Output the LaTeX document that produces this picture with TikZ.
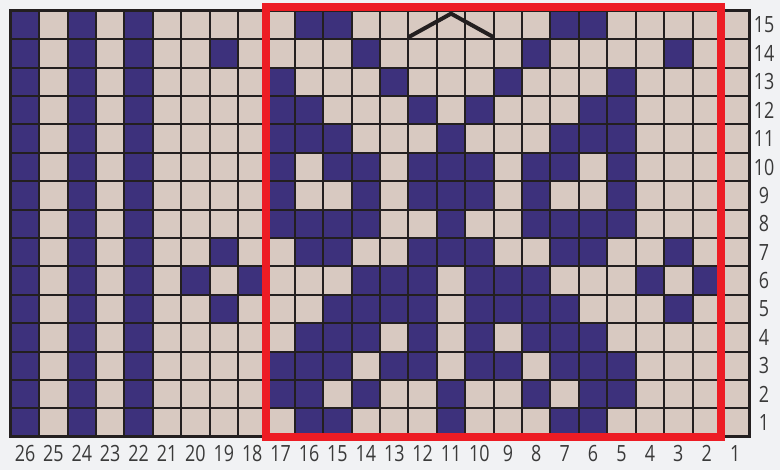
\documentclass[tikz,border=0pt]{standalone}
\usepackage{fontspec}
\setmainfont{Open Sans}[FakeStretch=0.8]
\definecolor{chartbg}{HTML}{F1F2F4}
\definecolor{chartdark}{HTML}{3D317C}
\definecolor{chartlight}{HTML}{D8C9C1}
\definecolor{chartline}{HTML}{231F20}
\definecolor{chartred}{HTML}{ED1C24}
\definecolor{chartnum}{HTML}{3A3A3A}

\begin{document}
\begin{tikzpicture}[
        x=0.5cm, y=0.5cm,
        font=\fontsize{11.2}{13}\selectfont,
        gridline/.style={chartline, line width=1pt},
        frameline/.style={chartline, line width=1.4pt},
        num/.style={text=chartnum, inner sep=0pt}
    ]

    % Фон
    \path[use as bounding box, fill=chartbg] (-0.38,-1.17) rectangle (27.08,15.38);

    % Клетки
    \fill[chartlight] (0,0) rectangle (26,15);
    \foreach \r/\bits in {
        15/{1,0,1,0,1,0,0,0,0,0,1,1,0,0,0,0,0,0,0,1,1,0,0,0,0,0},
        14/{1,0,1,0,1,0,0,1,0,0,0,0,1,0,0,0,0,0,1,0,0,0,0,1,0,0},
        13/{1,0,1,0,1,0,0,0,0,1,0,0,0,1,0,0,0,1,0,0,0,1,0,0,0,0},
        12/{1,0,1,0,1,0,0,0,0,1,1,0,0,0,1,0,1,0,0,0,1,1,0,0,0,0},
        11/{1,0,1,0,1,0,0,0,0,1,1,1,0,0,0,1,0,0,0,1,1,1,0,0,0,0},
        10/{1,0,1,0,1,0,0,0,0,1,0,1,1,0,1,1,1,0,1,1,0,1,0,0,0,0},
        9/{1,0,1,0,1,0,0,0,0,1,0,0,1,0,1,1,1,0,1,0,0,1,0,0,0,0},
        8/{1,0,1,0,1,0,0,0,0,1,1,1,1,0,0,1,0,0,1,1,1,1,0,0,0,0},
        7/{1,0,1,0,1,0,0,1,0,0,1,1,0,0,1,1,1,0,0,1,1,0,0,1,0,0},
        6/{1,0,1,0,1,0,1,0,1,0,0,0,1,1,1,0,1,1,1,0,0,0,1,0,1,0},
        5/{1,0,1,0,1,0,0,1,0,0,0,1,1,1,1,0,1,1,1,1,0,0,0,1,0,0},
        4/{1,0,1,0,1,0,0,0,0,0,1,1,1,0,1,0,1,0,1,1,1,0,0,0,0,0},
        3/{1,0,1,0,1,0,0,0,0,1,1,1,0,1,1,0,1,1,0,1,1,1,0,0,0,0},
        2/{1,0,1,0,1,0,0,0,0,1,1,0,1,0,0,1,0,0,1,0,1,1,0,0,0,0},
        1/{1,0,1,0,1,0,0,0,0,0,1,1,0,0,0,1,0,0,0,1,1,0,0,0,0,0}} {
        \foreach \b [count=\c from 0] in \bits {
            \ifnum\b=1 \fill[chartdark] (\c,\r-1) rectangle ++(1,1); \fi
        }
    }

    % Сетка
    \draw[gridline, step=0.5cm] (0,0) grid (26,15);
    \draw[frameline] (0,0) rectangle (26,15);

    % Номера петель и рядов
    \foreach \n in {1,...,26}
        \node[num] (col\n) at ({26.5-\n},-0.575) {\n};
    \foreach \n in {1,...,15}
        \node[num] (row\n) at (26.52,\n-0.5) {\n};

    % Раппорт
    \draw[chartred, line width=4pt] (9,0) rectangle (25,15.14);

    % Уголок
    \draw[chartline, line width=2pt] (14,14.07) -- (15.5,14.9) -- (17,14.07);

\end{tikzpicture}
\end{document}
